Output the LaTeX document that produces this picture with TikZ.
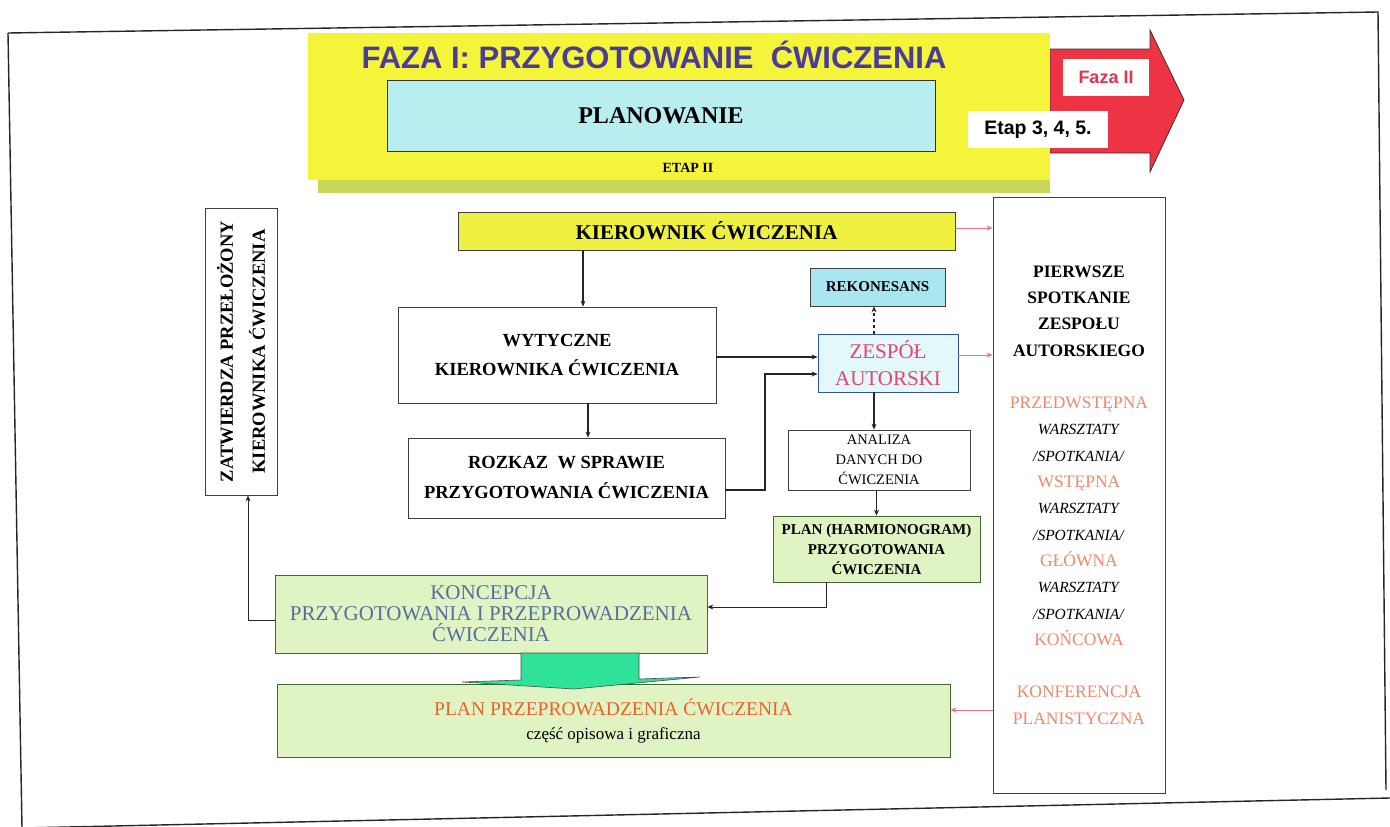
\documentclass[tikz,border=0pt]{standalone}
\usepackage{fontspec}
\setmainfont{Liberation Serif}
\setsansfont{Liberation Sans}
\usetikzlibrary{arrows.meta}
\definecolor{bigyellow}{HTML}{F4F43A}
\definecolor{shadowgreen}{HTML}{C9D65A}
\definecolor{planblue}{HTML}{B8EEF0}
\definecolor{titleblue}{HTML}{4A3C98}
\definecolor{arrowred}{HTML}{EE3344}
\definecolor{fazared}{HTML}{E23350}
\definecolor{kyellow}{HTML}{EEF042}
\definecolor{rekcyan}{HTML}{A9E6F0}
\definecolor{zespfill}{HTML}{E2F8FA}
\definecolor{zespborder}{HTML}{3050A0}
\definecolor{zesptext}{HTML}{E8456A}
\definecolor{lgreen}{HTML}{DFF4C2}
\definecolor{dgreen}{HTML}{3E6A30}
\definecolor{koncblue}{HTML}{5A6E9E}
\definecolor{planorange}{HTML}{F0602E}
\definecolor{salmon}{HTML}{F4866A}
\definecolor{pinkline}{HTML}{F07080}
\definecolor{arrowgreen}{HTML}{2FE29A}
\tikzset{
  box/.style={draw=black!75, line width=0.8pt, align=center, inner sep=2pt, anchor=center},
  conn/.style={draw=black!85, line width=1.1pt, -{Stealth[length=6pt,width=5pt]}},
  pinkconn/.style={draw=pinkline, line width=0.9pt, -{Stealth[length=6pt,width=5pt]}}
}
\newcommand{\fsz}[2]{\fontsize{#1}{#2}\selectfont}
\newcommand{\salm}[1]{{\color{salmon}\fsz{17.5}{26.3}#1}}
\newcommand{\blk}[1]{{\bfseries\fsz{17.5}{26.3}#1}}
\begin{document}
\begin{tikzpicture}[x=1pt,y=-1pt]
\useasboundingbox (0,0) rectangle (1390,827);
% outer frame
\draw[line width=1.4pt, black!85] (8,33) -- (1378,12) -- (1386,790);
\draw[line width=1.4pt, black!85] (1390,798) -- (22,828);
\draw[line width=1.4pt, black!85] (8,33) -- (22,828);
% red arrow
\draw[draw=black!80, fill=arrowred, line width=0.8pt]
  (1050,49) -- (1150,49) -- (1150,30) -- (1184,100) -- (1150,172) -- (1150,153) -- (1050,153) -- cycle;
% yellow phase box with shadow
\fill[shadowgreen] (318,178) rectangle (1050,193);
\node[fill=bigyellow, minimum width=742, minimum height=147, inner sep=0pt] (faza) at (679,106.5) {};
\node[text=titleblue, font=\sffamily\bfseries\fsz{31}{34}] (tytul) at (654,55) {FAZA I: PRZYGOTOWANIE\ \ ĆWICZENIA};
\node[box, fill=planblue, draw=black!80, minimum width=548, minimum height=71, font=\bfseries\fsz{24}{28}] (plan) at (661,115.5) {PLANOWANIE};
\node[font=\bfseries\fsz{14}{16}] (etap) at (688,168) {ETAP II};
\node[fill=white, minimum width=86, minimum height=37, inner sep=0pt, text=fazared, font=\sffamily\bfseries\fsz{18}{20}] (faza2) at (1106,77.5) {Faza II};
\node[fill=white, minimum width=140, minimum height=37, inner sep=0pt, font=\sffamily\bfseries\fsz{19.5}{22}] (etap345) at (1038,129.5) {Etap 3, 4, 5.};
% left vertical box
\node[box, rotate=90, minimum width=287, minimum height=72, font=\bfseries\fsz{18.5}{32}] (zatw) at (241,351.5) {ZATWIERDZA PRZEŁOŻONY\\KIEROWNIKA ĆWICZENIA};
% central boxes
\node[box, fill=kyellow, minimum width=497, minimum height=38, font=\bfseries\fsz{21}{24}] (kier) at (706.5,231) {KIEROWNIK ĆWICZENIA};
\node[box, minimum width=318, minimum height=96, font=\bfseries\fsz{18.5}{29}] (wyt) at (557,355) {WYTYCZNE\\KIEROWNIKA ĆWICZENIA};
\node[box, minimum width=317, minimum height=80, font=\bfseries\fsz{18.5}{30}] (rozk) at (566.5,478) {ROZKAZ\ \ W SPRAWIE\\PRZYGOTOWANIA ĆWICZENIA};
\node[box, fill=rekcyan, minimum width=135, minimum height=38, font=\bfseries\fsz{15}{16}] (rek) at (877.5,287) {REKONESANS};
\node[box, fill=zespfill, draw=zespborder, minimum width=140, minimum height=58, text=zesptext, font=\fsz{21}{27}] (zesp) at (888,363) {ZESPÓŁ\\AUTORSKI};
\node[box, minimum width=182, minimum height=60, font=\fsz{14.5}{20}] (anal) at (879,460) {ANALIZA\\DANYCH DO\\ĆWICZENIA};
\node[box, fill=lgreen, draw=dgreen, minimum width=207, minimum height=66, font=\bfseries\fsz{15}{20}] (harm) at (876.5,549) {PLAN (HARMIONOGRAM)\\PRZYGOTOWANIA\\ĆWICZENIA};
\node[box, fill=lgreen, draw=dgreen, minimum width=432, minimum height=78, text=koncblue, font=\fsz{21}{21}] (konc) at (491,614) {KONCEPCJA\\PRZYGOTOWANIA I PRZEPROWADZENIA\\ĆWICZENIA};
\node[box, fill=lgreen, draw=dgreen, minimum width=673, minimum height=73, font=\fsz{17}{24}] (pprz) at (613.5,720.5) {{\color{planorange}\fsz{19.5}{24}PLAN PRZEPROWADZENIA ĆWICZENIA}\\część opisowa i graficzna};
% green arrow
\draw[fill=arrowgreen, draw=black!70, line width=0.6pt]
  (521,653) -- (639,653) -- (639,679) -- (700,677) -- (574,689) -- (462,682) -- (521,680) -- cycle;
% right tall box
\node[box, minimum width=172, minimum height=596, font=\fsz{15.5}{26.3}] (prawy) at (1079,495) {%
\blk{PIERWSZE}\\\blk{SPOTKANIE}\\\blk{ZESPOŁU}\\\blk{AUTORSKIEGO}\\[26.3pt]
\salm{PRZEDWSTĘPNA}\\\textit{WARSZTATY}\\\textit{/SPOTKANIA/}\\
\salm{WSTĘPNA}\\\textit{WARSZTATY}\\\textit{/SPOTKANIA/}\\
\salm{GŁÓWNA}\\\textit{WARSZTATY}\\\textit{/SPOTKANIA/}\\
\salm{KOŃCOWA}\\[26.3pt]
\salm{KONFERENCJA}\\\salm{PLANISTYCZNA}};
% coordinates for bends
\coordinate (xa) at (583,0);
\coordinate (xb) at (588,0);
\coordinate (xc) at (765,0);
\coordinate (ya) at (0,357);
\coordinate (yb) at (0,374);
\coordinate (yc) at (0,490);
\coordinate (xd) at (874,0);
\coordinate (xe) at (826,0);
\coordinate (yf) at (0,607);
\coordinate (xg) at (248,0);
\coordinate (yg) at (0,620);
\coordinate (yh) at (0,228);
\coordinate (yi) at (0,355);
\coordinate (yj) at (0,710);
% connectors
\draw[conn] (kier.south -| xa) -- (wyt.north -| xa);
\draw[conn] (wyt.south -| xb) -- (rozk.north -| xb);
\draw[conn] (wyt.east |- ya) -- (zesp.west |- ya);
\draw[conn] (rozk.east |- yc) -- (xc |- yc) -- (xc |- yb) -- (zesp.west |- yb);
\draw[conn, dashed] (zesp.north -| xd) -- (rek.south -| xd);
\draw[conn] (zesp.south -| xd) -- (anal.north -| xd);
\draw[conn] (anal.south -| harm.north) -- (harm.north);
\draw[conn, line width=0.8pt] (harm.south -| xe) -- (xe |- yf) -- (konc.east |- yf);
\draw[conn, line width=0.8pt] (konc.west |- yg) -- (xg |- yg) -- (zatw.west -| xg);
\draw[pinkconn] (kier.east |- yh) -- (prawy.west |- yh);
\draw[pinkconn] (zesp.east |- yi) -- (prawy.west |- yi);
\draw[pinkconn] (prawy.west |- yj) -- (pprz.east |- yj);
\end{tikzpicture}
\end{document}
